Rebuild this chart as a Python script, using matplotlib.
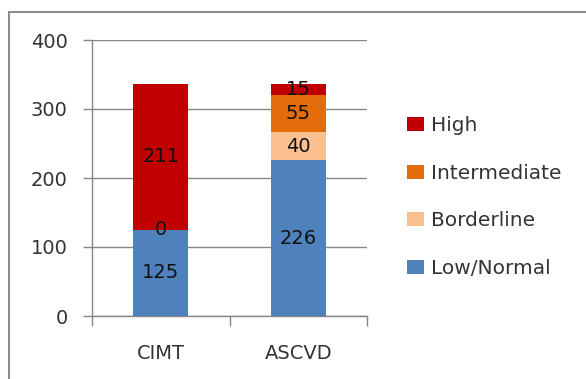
import numpy as np
import matplotlib
matplotlib.use("Agg")
import matplotlib.pyplot as plt
from matplotlib.patches import Rectangle

categories = ["CIMT", "ASCVD"]
series_names = ["Low/Normal", "Borderline", "Intermediate", "High"]
low_normal = [125, 226]
borderline = [0, 40]
intermediate = [np.nan, 55]
high = [211, 15]
y_ticks = [0, 100, 200, 300, 400]

colors = ["#4F81BD", "#FAC090", "#E46C0A", "#C00000"]

plt.rcParams["font.family"] = ["DejaVu Sans"]
FS = 14

fig = plt.figure(figsize=(5.86, 3.79), dpi=100)
ax = fig.add_axes([92 / 586, 1 - 316 / 379, 275 / 586, 276 / 379])

# outer chart frame
fig.patches.append(Rectangle((9 / 586, -0.1), 1.2, 1 - 12 / 379 + 0.1,
                             transform=fig.transFigure, fill=False,
                             edgecolor="#8c8c8c", linewidth=1.5))

x = np.arange(len(categories))
bottom = np.zeros(len(categories))
for name, vals, col in zip(series_names,
                           [low_normal, borderline, intermediate, high], colors):
    v = np.array(vals, dtype=float)
    h = np.nan_to_num(v)
    ax.bar(x, h, width=0.4, bottom=bottom, color=col, label=name, zorder=3)
    for xi, (val, b, hh) in enumerate(zip(v, bottom, h)):
        if not np.isnan(val):
            ax.text(xi, b + hh / 2, f"{int(val)}", ha="center", va="center",
                    fontsize=FS, color="#111111", zorder=4)
    bottom = bottom + h

ax.set_xlim(-0.5, 1.5)
ax.set_ylim(0, 400)
ax.set_yticks(y_ticks)
ax.set_xticks(x)
ax.set_xticklabels(categories)
ax.set_xticks([-0.5, 0.5, 1.5], minor=True)
ax.tick_params(axis="x", which="major", length=0, pad=20, labelsize=FS,
               labelcolor="#333333")
ax.tick_params(axis="x", which="minor", length=7, color="#868686", width=1)
ax.tick_params(axis="y", length=6.5, color="#868686", width=1, labelsize=FS,
               labelcolor="#333333", pad=11)
ax.grid(axis="y", color="#868686", linewidth=1, zorder=0)
for s in ["top", "right"]:
    ax.spines[s].set_visible(False)
for s in ["left", "bottom"]:
    ax.spines[s].set_color("#868686")
    ax.spines[s].set_linewidth(1)

handles, labels = ax.get_legend_handles_labels()
leg = fig.legend(handles[::-1], labels[::-1], loc="center left",
                 bbox_to_anchor=(407 / 586, 1 - 197 / 379), frameon=False,
                 fontsize=14.5, handlelength=0.82, handleheight=0.68,
                 handletextpad=0.35, labelspacing=1.42, borderpad=0,
                 borderaxespad=0)
for t in leg.get_texts():
    t.set_color("#333333")

fig.savefig("out.png", dpi=100, facecolor="white")
